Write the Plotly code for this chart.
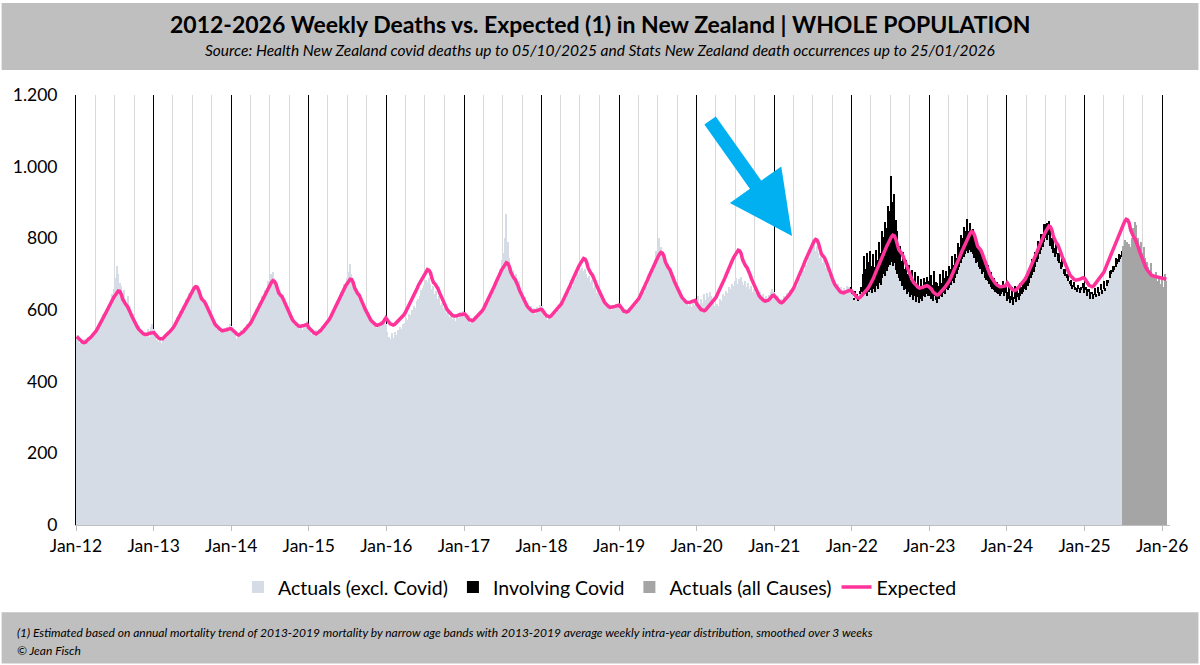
import pandas as pd
import plotly.graph_objects as go

# weekly series, first week ends 07/01/2012 (one row of 13 values = one quarter)
expected = [
    # 2012
    526, 522, 516, 512, 510, 509, 510, 515, 518, 522, 526, 531, 535,
    541, 548, 555, 564, 571, 580, 587, 595, 604, 613, 620, 629, 636,
    641, 649, 653, 652, 644, 630, 620, 616, 611, 604, 594, 584, 575,
    567, 558, 551, 545, 541, 536, 533, 532, 532, 533, 535, 536, 538,
    # 2013
    537, 532, 526, 522, 520, 519, 520, 525, 528, 532, 537, 541, 545,
    551, 558, 566, 574, 582, 591, 598, 607, 615, 624, 631, 640, 647,
    653, 661, 665, 664, 656, 642, 631, 627, 623, 615, 605, 595, 586,
    577, 569, 561, 556, 551, 547, 544, 542, 542, 544, 545, 547, 548,
    # 2014
    548, 544, 538, 533, 532, 530, 532, 536, 539, 544, 548, 553, 557,
    563, 571, 579, 588, 595, 604, 612, 621, 630, 639, 647, 656, 664,
    670, 677, 682, 680, 673, 658, 647, 642, 638, 630, 620, 609, 600,
    591, 582, 574, 568, 563, 559, 556, 554, 554, 556, 557, 559, 560,
    # 2015
    551, 547, 541, 536, 535, 533, 535, 539, 542, 547, 551, 556, 561,
    567, 574, 582, 591, 599, 608, 616, 625, 634, 643, 651, 660, 668,
    674, 681, 686, 685, 677, 662, 651, 646, 642, 634, 623, 613, 603,
    594, 585, 577, 571, 567, 562, 559, 557, 558, 560, 562, 565, 570,
    # 2016 (53 weeks)
    578, 572, 566, 561, 560, 558, 560, 564, 567, 572, 577, 581, 586,
    592, 600, 608, 617, 625, 634, 642, 651, 660, 670, 677, 687, 694,
    701, 708, 713, 711, 704, 688, 677, 673, 668, 660, 649, 639, 629,
    620, 611, 603, 597, 592, 587, 584, 583, 583, 584, 586, 587, 589, 589,
    # 2017
    589, 585, 578, 573, 572, 570, 572, 576, 580, 585, 589, 594, 599,
    606, 614, 622, 632, 640, 649, 657, 667, 677, 687, 695, 704, 713,
    719, 727, 732, 730, 722, 706, 695, 690, 685, 677, 666, 654, 645,
    635, 625, 617, 611, 606, 601, 598, 596, 596, 598, 599, 601, 602,
    # 2018
    601, 596, 589, 584, 583, 581, 583, 588, 591, 596, 601, 605, 610,
    617, 625, 633, 643, 651, 661, 669, 679, 689, 698, 707, 716, 724,
    731, 739, 744, 742, 734, 718, 707, 702, 697, 689, 677, 666, 656,
    646, 636, 628, 622, 617, 612, 609, 607, 607, 609, 610, 612, 614,
    # 2019
    614, 609, 602, 597, 596, 594, 596, 601, 604, 609, 614, 619, 624,
    631, 639, 647, 657, 666, 676, 684, 694, 704, 714, 723, 733, 741,
    748, 756, 761, 759, 751, 734, 723, 718, 713, 704, 693, 681, 671,
    661, 651, 642, 636, 631, 626, 622, 621, 621, 622, 624, 626, 627,
    # 2020
    618, 613, 606, 601, 600, 598, 600, 605, 608, 613, 618, 623, 628,
    635, 644, 652, 662, 671, 681, 689, 699, 710, 720, 728, 738, 747,
    753, 762, 767, 765, 757, 740, 728, 723, 718, 710, 698, 686, 676,
    666, 655, 647, 640, 635, 630, 627, 625, 625, 627, 630, 635, 640,
    # 2021
    641, 636, 629, 624, 622, 620, 622, 627, 631, 636, 641, 647, 652,
    659, 668, 677, 687, 696, 707, 716, 726, 737, 747, 756, 767, 776,
    783, 792, 797, 795, 786, 769, 756, 751, 746, 737, 724, 712, 701,
    691, 680, 671, 664, 659, 654, 650, 648, 648, 650, 652, 654, 655,
    # 2022 (53 weeks)
    654, 649, 642, 637, 635, 633, 635, 640, 644, 649, 654, 659, 665,
    672, 681, 689, 700, 709, 719, 728, 739, 749, 760, 769, 779, 788,
    795, 804, 809, 807, 798, 781, 769, 763, 758, 749, 737, 725, 714,
    703, 693, 684, 677, 672, 666, 663, 661, 661, 663, 665, 666, 668, 666,
    # 2023
    663, 658, 651, 646, 644, 642, 644, 649, 653, 658, 663, 669, 674,
    681, 690, 699, 709, 718, 729, 738, 748, 759, 769, 778, 789, 798,
    805, 814, 819, 817, 808, 791, 778, 773, 768, 759, 746, 734, 723,
    713, 702, 693, 686, 678, 674, 670, 667, 665, 665, 666, 667, 668,
    # 2024
    676, 670, 663, 658, 656, 654, 656, 661, 665, 670, 676, 681, 686,
    694, 703, 712, 722, 731, 742, 751, 762, 773, 784, 793, 803, 812,
    820, 829, 834, 832, 823, 805, 793, 787, 782, 773, 760, 748, 737,
    726, 715, 706, 699, 694, 688, 685, 683, 683, 685, 686, 688, 690,
    # 2025
    688, 682, 674, 669, 667, 665, 667, 673, 676, 682, 688, 693, 699,
    706, 716, 725, 736, 746, 757, 767, 778, 789, 800, 810, 821, 830,
    838, 847, 853, 851, 842, 823, 810, 804, 798, 789, 776, 763, 751,
    740, 729, 720, 712, 706, 701, 697, 695, 694, 693, 692, 691, 690,
    # 2026
    689, 688, 687, 686,
]

actual_excl_covid = [
    # 2012
    521, 530, 508, 515, 504, 518, 512, 509, 525, 516, 531, 524, 540,
    536, 552, 549, 570, 566, 588, 579, 601, 612, 606, 628, 645, 660,
    690, 722, 700, 676, 668, 640, 655, 628, 621, 640, 612, 598, 590,
    580, 566, 548, 556, 538, 545, 528, 540, 530, 548, 526, 552, 560,
    # 2013
    548, 526, 515, 510, 522, 508, 525, 517, 531, 524, 540, 535, 552,
    546, 562, 558, 580, 572, 596, 590, 612, 604, 630, 622, 648, 640,
    660, 652, 671, 668, 650, 648, 625, 636, 618, 620, 598, 604, 580,
    586, 562, 570, 548, 556, 540, 550, 536, 548, 540, 552, 546, 560,
    # 2014
    556, 540, 525, 538, 520, 534, 528, 545, 532, 550, 541, 560, 552,
    570, 565, 586, 580, 602, 598, 620, 615, 640, 634, 655, 662, 680,
    675, 700, 707, 690, 668, 672, 640, 655, 630, 642, 612, 620, 592,
    598, 575, 580, 560, 570, 552, 562, 548, 558, 545, 562, 555, 570,
    # 2015
    548, 556, 534, 540, 528, 545, 530, 548, 536, 555, 548, 562, 556,
    575, 570, 590, 585, 606, 600, 625, 618, 640, 650, 645, 672, 668,
    690, 705, 728, 700, 682, 670, 648, 660, 632, 640, 615, 622, 598,
    602, 580, 586, 568, 575, 556, 566, 550, 562, 555, 568, 560, 578,
    # 2016
    560, 540, 525, 518, 535, 522, 540, 530, 545, 538, 552, 548, 560,
    565, 578, 572, 590, 585, 600, 612, 605, 625, 632, 640, 655, 662,
    670, 685, 678, 690, 672, 660, 668, 645, 652, 630, 638, 615, 620,
    605, 612, 592, 598, 580, 590, 575, 585, 570, 588, 578, 595, 585, 598,
    # 2017
    595, 580, 570, 585, 565, 578, 568, 582, 575, 590, 585, 600, 595,
    610, 605, 625, 620, 645, 640, 660, 655, 680, 690, 700, 715, 740,
    760, 800, 868, 790, 745, 720, 705, 712, 690, 700, 672, 680, 650,
    645, 628, 635, 612, 620, 600, 610, 595, 605, 590, 608, 598, 615,
    # 2018
    610, 592, 580, 588, 572, 585, 578, 590, 582, 598, 592, 605, 600,
    612, 628, 622, 640, 636, 655, 650, 672, 668, 690, 685, 705, 700,
    712, 717, 708, 715, 700, 690, 695, 678, 685, 662, 670, 648, 655,
    640, 645, 625, 632, 615, 620, 605, 615, 600, 612, 605, 618, 610,
    # 2019
    605, 615, 595, 600, 588, 602, 590, 605, 598, 612, 605, 620, 615,
    628, 640, 635, 655, 650, 672, 668, 690, 700, 710, 725, 740, 765,
    770, 800, 775, 758, 745, 730, 720, 728, 705, 712, 690, 695, 668,
    660, 655, 640, 645, 625, 632, 618, 625, 612, 620, 608, 622, 615,
    # 2020
    625, 640, 615, 632, 620, 645, 628, 648, 635, 650, 640, 630, 610,
    600, 618, 612, 630, 626, 645, 640, 652, 648, 665, 660, 672, 668,
    680, 690, 672, 686, 693, 678, 670, 682, 664, 675, 658, 668, 650,
    660, 648, 655, 640, 650, 635, 645, 630, 640, 628, 642, 650, 660,
    # 2021
    650, 630, 625, 640, 618, 632, 625, 640, 635, 648, 642, 656, 650,
    660, 655, 670, 668, 685, 690, 700, 712, 708, 725, 735, 748, 760,
    770, 787, 765, 778, 760, 745, 752, 730, 740, 718, 725, 700, 708,
    690, 682, 675, 668, 672, 660, 665, 655, 662, 650, 668, 658, 665,
    # 2022
    660, 645, 630, 650, 640, 625, 645, 650, 640, 655, 645, 640, 650,
    655, 648, 660, 650, 668, 660, 675, 670, 690, 700, 695, 710, 720,
    725, 735, 722, 730, 712, 700, 690, 680, 668, 672, 655, 660, 645,
    650, 635, 642, 628, 640, 622, 635, 620, 632, 625, 640, 635, 645, 640,
    # 2023
    640, 632, 625, 638, 628, 620, 632, 640, 635, 648, 645, 660, 655,
    662, 670, 680, 675, 690, 700, 712, 720, 730, 742, 748, 755, 765,
    760, 768, 762, 755, 745, 730, 735, 720, 715, 700, 705, 690, 685,
    680, 672, 665, 660, 655, 650, 648, 645, 640, 645, 650, 640, 648,
    # 2024
    625, 632, 620, 628, 615, 630, 622, 635, 628, 640, 645, 650, 660,
    655, 668, 675, 690, 698, 705, 720, 735, 742, 755, 768, 775, 790,
    800, 795, 810, 780, 770, 760, 748, 755, 738, 730, 715, 720, 700,
    695, 688, 680, 672, 668, 660, 665, 655, 650, 660, 648, 655, 662,
    # 2025 (to end of June)
    648, 655, 640, 650, 632, 645, 630, 642, 636, 648, 640, 655, 645,
    660, 652, 668, 675, 688, 700, 705, 712, 720, 728, 735, 742, 748,
]

# deaths involving covid, from first week of 2022 to end of June 2025
involving_covid = [
    # 2022
    3, 2, 4, 3, 5, 6, 8, 15, 60, 95, 70, 120, 85,
    110, 75, 95, 70, 100, 80, 115, 90, 130, 105, 150, 120, 170,
    150, 240, 180, 195, 140, 120, 85, 100, 70, 90, 60, 80, 55,
    75, 50, 70, 45, 65, 40, 60, 45, 55, 38, 50, 42, 48, 40,
    # 2023
    40, 65, 45, 70, 50, 55, 35, 60, 40, 65, 45, 50, 40,
    60, 45, 70, 50, 65, 45, 75, 55, 80, 60, 85, 65, 90,
    60, 75, 55, 70, 50, 60, 40, 55, 45, 55, 35, 50, 30,
    45, 30, 40, 25, 35, 22, 30, 20, 28, 22, 30, 24, 28,
    # 2024
    25, 40, 20, 35, 22, 38, 18, 30, 20, 35, 18, 28, 22,
    35, 25, 40, 28, 45, 30, 42, 32, 50, 35, 45, 38, 50,
    40, 48, 37, 42, 30, 38, 25, 32, 22, 28, 18, 25, 15,
    20, 12, 18, 10, 16, 9, 14, 8, 12, 10, 14, 8, 12,
    # 2025
    15, 8, 20, 10, 18, 6, 14, 20, 8, 16, 10, 18, 12,
    20, 10, 16, 8, 22, 12, 18, 10, 24, 14, 20, 12, 16,
]

# all causes, July 2025 to 25/01/2026
actual_all_causes = [
    780, 795, 770, 790, 785, 775, 800, 830, 846, 838, 800, 780, 790,
    760, 775, 745, 735, 720, 712, 730, 700, 690, 705, 680, 695, 672,
    690, 665, 700, 680,
]

assert len(actual_excl_covid) + len(actual_all_causes) == len(expected)

week_end = pd.date_range("2012-01-07", periods=len(expected), freq="7D")
week_mid = week_end - pd.Timedelta(days=3)
n_excl = len(actual_excl_covid)
x_excl = week_mid[:n_excl]
x_covid = week_mid[n_excl - len(involving_covid):n_excl]
x_all = week_mid[n_excl:]
bar_w = 7 * 24 * 3600 * 1000

FONT = "Lato"
fig = go.Figure()
fig.add_trace(go.Bar(x=x_excl, y=actual_excl_covid, width=bar_w, name="Actuals (excl. Covid)",
                     marker=dict(color="#D6DCE5", line=dict(width=0))))
fig.add_trace(go.Bar(x=x_covid, y=involving_covid, width=bar_w, name="Involving Covid",
                     marker=dict(color="#000000", line=dict(width=0))))
fig.add_trace(go.Bar(x=x_all, y=actual_all_causes, width=bar_w, name="Actuals (all Causes)",
                     marker=dict(color="#A5A5A5", line=dict(width=0))))
fig.add_trace(go.Scatter(x=week_mid, y=expected, mode="lines", name="Expected",
                         line=dict(color="#FF3399", width=3.5)))

# grey header and footer bands
fig.add_shape(type="rect", xref="paper", yref="paper", x0=-0.068, x1=1.026, y0=1.058, y1=1.214,
              fillcolor="#BFBFBF", line=dict(width=0), layer="below")
fig.add_shape(type="rect", xref="paper", yref="paper", x0=-0.068, x1=1.026, y0=-0.322, y1=-0.203,
              fillcolor="#BFBFBF", line=dict(width=0), layer="below")

fig.add_annotation(xref="paper", yref="paper", x=0.479, y=1.165, yanchor="middle", showarrow=False,
                   text="<b>2012-2026 Weekly Deaths vs. Expected (1) in New Zealand | WHOLE POPULATION</b>",
                   font=dict(family=FONT, size=23, color="black"))
fig.add_annotation(xref="paper", yref="paper", x=0.479, y=1.105, yanchor="middle", showarrow=False,
                   text="<i>Source: Health New Zealand covid deaths up to 05/10/2025 and Stats New Zealand death occurrences up to 25/01/2026</i>",
                   font=dict(family=FONT, size=15.5, color="black"))
fig.add_annotation(xref="paper", yref="paper", x=-0.056, y=-0.251, xanchor="left", yanchor="middle",
                   showarrow=False,
                   text="<i>(1) Estimated based on annual mortality trend of 2013-2019 mortality by narrow age bands with 2013-2019 average weekly intra-year distribution, smoothed over 3 weeks</i>",
                   font=dict(family=FONT, size=12, color="black"))
fig.add_annotation(xref="paper", yref="paper", x=-0.056, y=-0.293, xanchor="left", yanchor="middle",
                   showarrow=False, text="<i>© Jean Fisch</i>",
                   font=dict(family=FONT, size=12, color="black"))

# blue arrow pointing at the 2021 winter
fig.add_annotation(xref="paper", yref="paper", x=0.6545, y=0.672, text="", showarrow=True,
                   ax=-83, ay=-117, arrowcolor="#00B0F0", arrowwidth=14, arrowhead=2, arrowsize=0.9,
                   standoff=0)

fig.update_layout(
    width=1200, height=665,
    margin=dict(l=76, r=30, t=95, b=140),
    paper_bgcolor="white", plot_bgcolor="white",
    barmode="stack", bargap=0,
    separators=",.",
    font=dict(family=FONT, size=16, color="black"),
    showlegend=True,
    legend=dict(orientation="h", x=0.479, xanchor="center", y=-0.145, yanchor="middle",
                traceorder="normal", font=dict(size=19.5), itemwidth=30),
    hovermode=False,
)
fig.update_xaxes(
    type="date", range=["2012-01-01", "2026-02-07"],
    tick0="2012-01-01", dtick="M12", tickformat="%b-%y",
    showgrid=True, gridcolor="#000000", gridwidth=1,
    minor=dict(dtick="M3", tick0="2012-01-01", showgrid=True, gridcolor="#D9D9D9", ticks=""),
    showline=True, linecolor="#BFBFBF", ticks="outside", ticklen=5, tickcolor="#BFBFBF",
    tickfont=dict(size=17.5),
)
fig.update_yaxes(
    range=[0, 1200], dtick=200, tickformat=",d", showgrid=False, zeroline=False,
    showline=True, linecolor="#000000", ticks="", ticklabelstandoff=14,
    tickfont=dict(size=17.5),
)

fig.write_html("out.html", config={"displayModeBar": False},
               post_script="document.body.style.margin='0';document.body.style.padding='0';")
